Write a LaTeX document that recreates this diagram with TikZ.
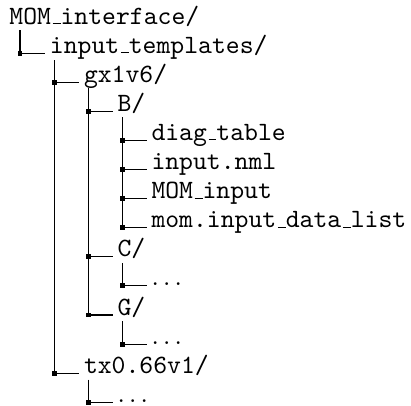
\documentclass[tikz,border=0pt]{standalone}
\newcommand\us{\leavevmode\kern.06em\vbox{\hrule width.3em}}
\newcommand\mydots{{\rmfamily.\kern1.67pt.\kern1.67pt.}}
\begin{document}
\begin{tikzpicture}[x=0.39pt,y=-0.39pt,
  txt/.style={anchor=base west,inner sep=0pt,outer sep=0pt,font=\ttfamily\fontsize{10.3}{12}\selectfont},
  tline/.style={line width=0.45pt,black},
  jn/.style={rectangle,fill=black,inner sep=0pt,outer sep=0pt,minimum size=1.9pt}]
\useasboundingbox (0,0) rectangle (411,405);
% text rows
\node[txt] (r0)  at (9.5,24)    {MOM\us interface/};
\node[txt] (r1)  at (50,53.1)   {input\us templates/};
\node[txt] (r2)  at (84,82.2)   {gx1v6/};
\node[txt] (r3)  at (117.5,111.3) {B/};
\node[txt] (r4)  at (151.5,140.4) {diag\us table};
\node[txt] (r5)  at (151.5,169.5) {input.nml};
\node[txt] (r6)  at (151.5,198.6) {MOM\us input};
\node[txt] (r7)  at (151.5,227.7) {mom.input\us data\us list};
\node[txt] (r8)  at (117.5,256.8) {C/};
\node[txt] (r9)  at (151.5,285.9) {\mydots};
\node[txt] (r10) at (117.5,315)   {G/};
\node[txt] (r11) at (151.5,344.1) {\mydots};
\node[txt] (r12) at (84,373.2)    {tx0.66v1/};
\node[txt] (r13) at (117.5,402.3) {\mydots};
% junctions
\node[jn] (j1)  at (20,53.1) {};
\node[jn] (j2)  at (54.3,82.2) {};
\node[jn] (j3)  at (88.5,111.3) {};
\node[jn] (j4)  at (122.8,140.4) {};
\node[jn] (j5)  at (122.8,169.5) {};
\node[jn] (j6)  at (122.8,198.6) {};
\node[jn] (j7)  at (122.8,227.7) {};
\node[jn] (j8)  at (88.5,256.8) {};
\node[jn] (j9)  at (122.8,285.9) {};
\node[jn] (j10) at (88.5,315) {};
\node[jn] (j11) at (122.8,344.1) {};
\node[jn] (j12) at (54.3,373.2) {};
\node[jn] (j13) at (88.5,402.3) {};
% vertical line tops
\coordinate (t0)  at (20,30);
\coordinate (t1)  at (54.3,60);
\coordinate (t2)  at (88.5,88);
\coordinate (t3)  at (122.8,117);
\coordinate (t8)  at (122.8,263);
\coordinate (t10) at (122.8,321);
\coordinate (t12) at (88.5,379.5);
% verticals
\draw[tline] (t0) -- (j1.center);
\draw[tline] (t1) -- (j12.center);
\draw[tline] (t2) -- (j10.center);
\draw[tline] (t3) -- (j7.center);
\draw[tline] (t8) -- (j9.center);
\draw[tline] (t10) -- (j11.center);
\draw[tline] (t12) -- (j13.center);
% branches
\foreach \i in {1,...,13}{
  \draw[tline] (j\i.center) -- ([xshift=-5*0.39pt]r\i.base west);
}
\end{tikzpicture}
\end{document}
